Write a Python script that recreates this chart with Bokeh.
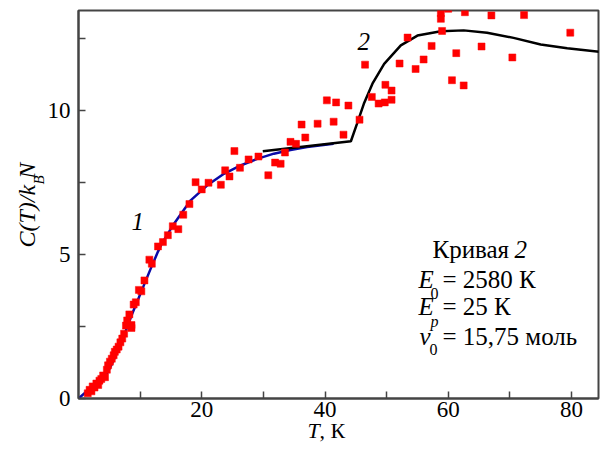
import math
from bokeh.plotting import figure
from bokeh.models import FixedTicker, Range1d, Label
from bokeh.embed import file_html
from bokeh.resources import INLINE

# ---------------- data ----------------
exp_T = [1.5, 1.8, 2.1, 2.3, 2.6, 2.9, 3.2, 3.4, 3.7, 4.0, 4.3, 4.6, 4.8, 5.1, 5.4, 5.7,
         5.9, 6.2, 6.5, 6.8, 7.1, 7.4, 7.7, 7.9, 8.25, 8.6, 8.6, 8.95, 9.3, 9.8, 10.2,
         10.7, 11.5, 11.9, 12.9, 13.7,
         14.5, 15.3, 16.2, 17.0, 18.0, 19.0, 20.0, 21.1, 23.1, 23.8, 24.5, 25.3, 26.2,
         27.6, 29.2, 30.8, 31.9, 32.8, 33.5, 34.4, 35.3, 36.2, 36.8, 38.8, 40.3, 41.4,
         41.8, 43.0, 43.8, 45.6,
         46.5, 47.6, 48.7, 49.7, 49.8, 50.8, 50.8, 52.1, 53.4, 54.7, 56.0, 57.3, 58.8,
         58.8, 59.0, 60.0, 60.6, 61.3, 62.5, 62.7, 65.4, 67.0, 70.4, 72.3, 79.8]
exp_C = [0.18, 0.30, 0.25, 0.42, 0.38, 0.52, 0.47, 0.62, 0.68, 0.80, 0.74, 1.00, 1.15, 1.28,
         1.38, 1.50, 1.62, 1.70, 1.80, 1.95, 2.08, 2.25, 2.53, 2.71, 2.92, 2.55, 2.45,
         3.26, 3.34, 3.77, 3.72, 4.10, 4.82, 4.68, 5.28, 5.43,
         5.67, 5.98, 5.88, 6.38, 6.75, 7.51, 7.26, 7.49, 7.42, 7.92, 7.71, 8.59, 8.01,
         8.30, 8.40, 7.75, 8.19, 8.15, 8.54, 8.91, 8.84, 9.51, 9.06, 9.54, 10.35, 9.61,
         10.28, 9.16, 10.17, 9.68,
         11.59, 10.47, 10.24, 10.28, 10.89, 10.69, 10.37, 11.63, 12.53, 11.44, 11.77,
         12.24, 13.38, 13.18, 12.76, 13.53, 11.05, 11.99, 10.87, 13.41, 12.22, 13.30,
         11.84, 13.31, 12.70]

curve1_T = [0, 1.5, 3.2, 4.3, 5.3, 6.4, 7.5, 8.6, 9.6, 10.7, 11.7, 12.9, 13.5, 15.5, 18.2,
            20.9, 23.6, 26.3, 29.0, 31.7, 34.4, 37.1, 41.4]
curve1_C = [0, 0.28, 0.53, 0.74, 1.15, 1.67, 2.25, 2.88, 3.40, 3.98, 4.50, 5.10, 5.37, 6.07,
            6.88, 7.40, 7.80, 8.09, 8.32, 8.50, 8.63, 8.73, 8.84]

curve2_T = [29.9, 44.2, 45.2, 46.3, 47.7, 49.6, 52.3, 55.0, 58.8, 62.5, 66.3, 70.6, 75.0,
            79.3, 84.5]
curve2_C = [8.58, 8.93, 9.54, 10.23, 10.93, 11.62, 12.26, 12.60, 12.75, 12.78, 12.70, 12.52,
            12.29, 12.16, 12.04]

x_major = [20, 40, 60, 80]
x_minor = [10, 30, 50, 70]
y_major = [0, 5, 10]
y_minor = [2.5, 7.5, 12.5]

X_END = 84.38
Y_END = 13.47

# ---------------- figure ----------------
W, H = 600, 453
ML, MR, MT, MB = 78, 2, 10, 55
p = figure(width=W, height=H, output_backend="svg", toolbar_location=None,
           x_range=Range1d(0, X_END), y_range=Range1d(0, Y_END),
           min_border_left=ML, min_border_right=MR, min_border_top=MT, min_border_bottom=MB)
p.xgrid.visible = False
p.ygrid.visible = False
p.background_fill_color = "white"
p.border_fill_color = "white"
p.outline_line_color = "#444444"
p.outline_line_width = 2

AX = "#444444"
FONT = "Liberation Serif"
for ax in (p.xaxis[0], p.yaxis[0]):
    ax.axis_line_color = AX
    ax.axis_line_width = 2
    ax.major_tick_line_color = AX
    ax.minor_tick_line_color = AX
    ax.major_tick_line_width = 1.5
    ax.minor_tick_line_width = 1.5
    ax.major_tick_in = 7
    ax.major_tick_out = 0
    ax.minor_tick_in = 7
    ax.minor_tick_out = 0
    ax.major_label_text_font = FONT
    ax.major_label_text_font_size = "23px"
    ax.major_label_text_color = "black"
p.xaxis[0].ticker = FixedTicker(ticks=x_major, minor_ticks=x_minor)
p.yaxis[0].ticker = FixedTicker(ticks=y_major, minor_ticks=y_minor)
p.xaxis[0].major_label_standoff = 3
p.yaxis[0].major_label_standoff = 8

# frame geometry (canvas pixels) for placing text
FX0 = ML
FY0 = H - MB
SX = (W - ML - MR) / X_END
SY = (H - MT - MB) / Y_END
BASE_SHIFT = 0.37  # empirical baseline correction, in em


def dx(px):
    return (px - FX0) / SX


def dy(py):
    return (FY0 - py) / SY


# ---------------- glyphs ----------------
p.line(curve1_T, curve1_C, line_color="#0a0aa8", line_width=2.5)
p.line(curve2_T, curve2_C, line_color="black", line_width=2.5)
p.scatter(exp_T, exp_C, marker="square", size=7, fill_color="#ff0000",
          line_color="#ff0000", line_width=0.5)


def lab(text, px, py, size, style="normal", rotated=False, place="center"):
    if rotated:
        px = px - BASE_SHIFT * size
    else:
        py = py - BASE_SHIFT * size
    l = Label(x=dx(px), y=dy(py), text=text, text_font=FONT,
              text_font_size=f"{size}px", text_font_style=style,
              text_color="black", text_align="left",
              text_baseline="alphabetic", angle=(math.pi / 2 if rotated else 0.0))
    p.add_layout(l, place)


# curve labels
lab("1", 131, 230, 25, "italic")
lab("2", 357, 50, 25, "italic")

# annotation block
lab("Кривая", 432, 258, 25)
lab("2", 514, 258, 25, "italic")
lab("E", 418, 288, 25, "italic")
lab("0", 430, 299, 16)
lab("= 2580 К", 442, 288, 25)
lab("E", 418, 315, 25, "italic")
lab("p", 430, 327, 16, "italic")
lab("= 25 К", 442, 315, 25)
lab("v", 419, 345, 25, "italic")
lab("0", 429, 355, 16)
lab("= 15,75 моль", 442, 345, 25)

# axis labels: kept in side panels so they are not clipped to the frame
lab("T", 307, 438, 22, "italic", place="left")
lab(", К", 319, 438, 22, place="below")
lab("C(T)/k  N", 35, 247, 24, "italic", rotated=True, place="left")
lab("B", 44, 184, 15, "italic", rotated=True, place="above")

open("out.html", "w").write(file_html(p, INLINE))
